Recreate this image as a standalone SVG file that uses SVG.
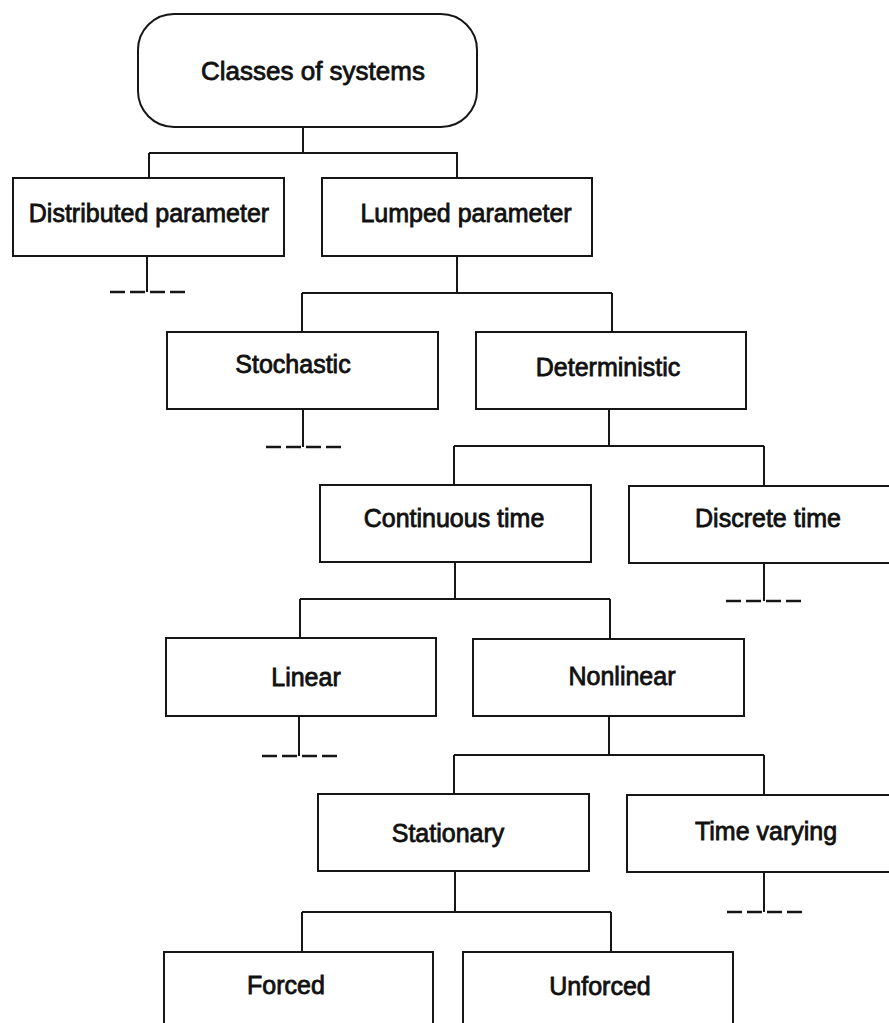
<svg xmlns="http://www.w3.org/2000/svg" width="889" height="1023" viewBox="0 0 889 1023">
  <style>
    .box { fill: #ffffff; stroke: #161616; stroke-width: 2; }
    .wire { fill: none; stroke: #161616; stroke-width: 2; }
    .stub { fill: none; stroke: #161616; stroke-width: 2.5; stroke-dasharray: 15 5; }
    .label { font-family: "Liberation Sans", Arial, Helvetica, sans-serif; font-size: 25px; fill: #111111; stroke: #111111; stroke-width: 0.8; text-anchor: middle; }
    .title { font-size: 26px; }
  </style>
  <rect width="889" height="1023" fill="#ffffff"/>

  <!-- tree connectors -->
  <g id="connectors">
    <!-- root to level 1 -->
    <path class="wire" d="M303 127 V153 M149 153 H458 M149 153 V178 M457 153 V178"/>
    <!-- Distributed parameter: continuation stub -->
    <path class="wire" d="M147 256 V292"/>
    <path class="stub" d="M110 292 H186"/>
    <!-- Lumped parameter to level 2 -->
    <path class="wire" d="M457 256 V293 M302 293 H612 M302 293 V332 M612 293 V332"/>
    <!-- Stochastic: continuation stub -->
    <path class="wire" d="M303 409 V447"/>
    <path class="stub" d="M266 447 H342"/>
    <!-- Deterministic to level 3 -->
    <path class="wire" d="M609 409 V446 M454 446 H764 M454 446 V485 M764 446 V486"/>
    <!-- Discrete time: continuation stub -->
    <path class="wire" d="M764 563 V601"/>
    <path class="stub" d="M726 601 H802"/>
    <!-- Continuous time to level 4 -->
    <path class="wire" d="M455 562 V599 M300 599 H610 M300 599 V638 M610 599 V639"/>
    <!-- Linear: continuation stub -->
    <path class="wire" d="M299 716 V756"/>
    <path class="stub" d="M262 756 H338"/>
    <!-- Nonlinear to level 5 -->
    <path class="wire" d="M609 716 V755 M454 755 H764 M454 755 V794 M764 755 V795"/>
    <!-- Time varying: continuation stub -->
    <path class="wire" d="M764 872 V912"/>
    <path class="stub" d="M727 912 H803"/>
    <!-- Stationary to level 6 -->
    <path class="wire" d="M455 871 V912 M302 912 H611 M302 912 V952 M611 912 V952"/>
  </g>

  <g id="node-classes">
    <rect class="box" x="138" y="14" width="339" height="113" rx="36" ry="36"/>
    <text class="label title" x="313" y="80">Classes of systems</text>
  </g>

  <g id="node-distributed">
    <rect class="box" x="13" y="178" width="271" height="78"/>
    <text class="label" x="149" y="222">Distributed parameter</text>
  </g>

  <g id="node-lumped">
    <rect class="box" x="322" y="178" width="270" height="78"/>
    <text class="label" x="466" y="222">Lumped parameter</text>
  </g>

  <g id="node-stochastic">
    <rect class="box" x="167" y="332" width="271" height="77"/>
    <text class="label" x="293" y="373">Stochastic</text>
  </g>

  <g id="node-deterministic">
    <rect class="box" x="476" y="332" width="270" height="77"/>
    <text class="label" x="608" y="376">Deterministic</text>
  </g>

  <g id="node-continuous">
    <rect class="box" x="320" y="485" width="271" height="77"/>
    <text class="label" x="454" y="527">Continuous time</text>
  </g>

  <g id="node-discrete">
    <rect class="box" x="629" y="486" width="280" height="77"/>
    <text class="label" x="768" y="527">Discrete time</text>
  </g>

  <g id="node-linear">
    <rect class="box" x="166" y="638" width="270" height="78"/>
    <text class="label" x="306" y="686">Linear</text>
  </g>

  <g id="node-nonlinear">
    <rect class="box" x="473" y="639" width="271" height="77"/>
    <text class="label" x="622" y="685">Nonlinear</text>
  </g>

  <g id="node-stationary">
    <rect class="box" x="318" y="794" width="271" height="77"/>
    <text class="label" x="448" y="842">Stationary</text>
  </g>

  <g id="node-timevarying">
    <rect class="box" x="627" y="795" width="280" height="77"/>
    <text class="label" x="766" y="840">Time varying</text>
  </g>

  <g id="node-forced">
    <rect class="box" x="164" y="952" width="269" height="90"/>
    <text class="label" x="286" y="994">Forced</text>
  </g>

  <g id="node-unforced">
    <rect class="box" x="463" y="952" width="270" height="90"/>
    <text class="label" x="600" y="995">Unforced</text>
  </g>
</svg>
